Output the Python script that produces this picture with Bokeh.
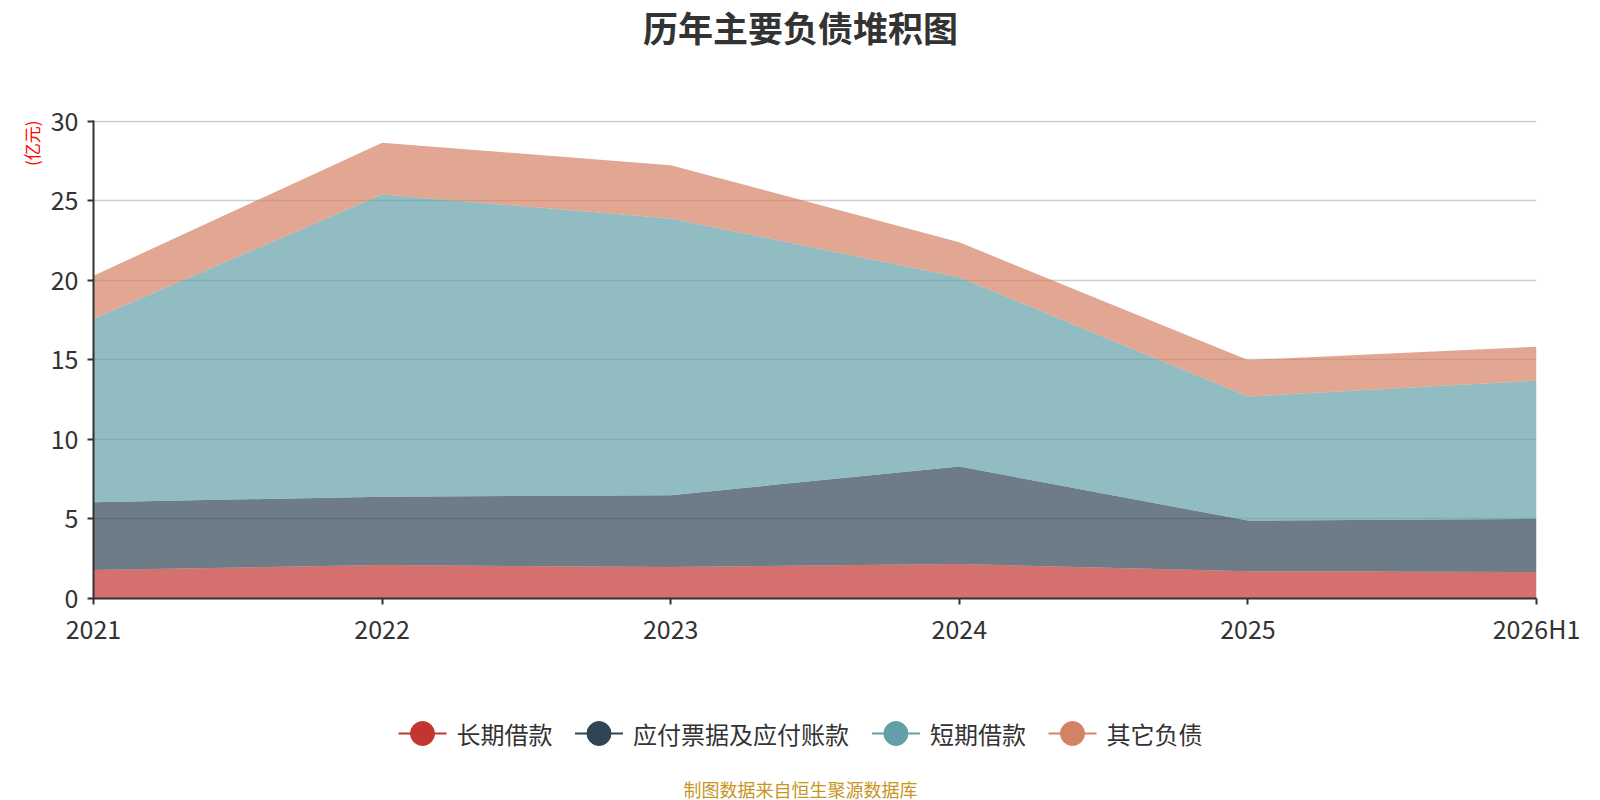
from bokeh.plotting import figure
from bokeh.models import ColumnDataSource, Range1d, FixedTicker, Title
from bokeh.layouts import column
from bokeh.embed import file_html
from bokeh.resources import INLINE
from bokeh.core.properties import value

# ---- data ----
years = ["2021", "2022", "2023", "2024", "2025", "2026H1"]
long_loan = [1.79, 2.10, 1.98, 2.17, 1.72, 1.66]        # 长期借款
payables = [4.27, 4.30, 4.52, 6.13, 3.18, 3.34]         # 应付票据及应付账款
short_loan = [11.54, 19.00, 17.40, 11.90, 7.80, 8.70]   # 短期借款
other_debt = [2.70, 3.26, 3.35, 2.20, 2.30, 2.13]       # 其它负债
series_names = ["长期借款", "应付票据及应付账款", "短期借款", "其它负债"]
series_colors = ["#c23531", "#2f4554", "#61a0a8", "#d48265"]
y_ticks = [0, 5, 10, 15, 20, 25, 30]
title_text = "历年主要负债堆积图"
unit_text = "(亿元)"
footer_text = "制图数据来自恒生聚源数据库"

FONT = "Noto Sans CJK SC"
W = 1600
BL, BR = 93, 64          # common left / right borders -> frame spans x 93..1536


def bare_fig(height, y_top, y_bottom):
    f = figure(width=W, height=height, output_backend="svg", toolbar_location=None,
               x_range=Range1d(BL, W - BR), y_range=Range1d(y_bottom, y_top),
               x_axis_type=None, y_axis_type=None,
               min_border_left=BL, min_border_right=BR,
               min_border_top=0, min_border_bottom=0)
    f.outline_line_color = None
    f.xgrid.grid_line_color = None
    f.ygrid.grid_line_color = None
    f.background_fill_color = "white"
    f.border_fill_color = "white"
    return f


# ---- title strip (page y 0..100) ----
t = bare_fig(100, 0, 100)
t.text([800], [26], text=[title_text], text_font=value(FONT), text_font_size="35px",
       text_font_style="bold", text_color="#333333",
       text_align="center", text_baseline="middle")

# ---- main chart (page y 100..648, frame 120..600) ----
x_idx = list(range(len(years)))
source = ColumnDataSource(dict(
    x=x_idx,
    s0=long_loan, s1=payables, s2=short_loan, s3=other_debt,
))

p = figure(width=W, height=548, output_backend="svg", toolbar_location=None,
           x_range=Range1d(0, len(years) - 1), y_range=Range1d(0, 30.06),
           min_border_left=BL, min_border_right=BR, min_border_top=20,
           min_border_bottom=48)
p.outline_line_color = None
p.background_fill_color = "white"
p.border_fill_color = "white"

p.varea_stack(stackers=["s0", "s1", "s2", "s3"], x="x", color=series_colors,
              fill_alpha=0.7, source=source)

p.xaxis.ticker = FixedTicker(ticks=x_idx)
p.xaxis.major_label_overrides = {i: y for i, y in enumerate(years)}
p.yaxis.ticker = FixedTicker(ticks=y_ticks)
for ax in (p.xaxis[0], p.yaxis[0]):
    ax.axis_line_color = "#333333"
    ax.axis_line_width = 2
    ax.major_tick_line_color = "#333333"
    ax.major_tick_line_width = 2
    ax.major_tick_out = 6
    ax.major_tick_in = 0
    ax.minor_tick_line_color = None
    ax.major_label_text_font = FONT
    ax.major_label_text_font_size = "25px"
    ax.major_label_text_color = "#333333"
p.xaxis.major_label_standoff = 5
p.yaxis.major_label_standoff = 9

p.xgrid.grid_line_color = None
p.ygrid.grid_line_color = "#cccccc"
p.ygrid.grid_line_width = 1.5
p.ygrid.ticker = FixedTicker(ticks=y_ticks)

p.add_layout(Title(text=unit_text, align="right", text_font=FONT,
                   text_font_size="17px", text_font_style="normal",
                   text_color="#ff0000", standoff=7), "left")

# ---- legend + footer strip (page y 648..800) ----
q = bare_fig(152, 648, 800)
legend_x = [398, 574.5, 871.4, 1048]
legend_y = 733
for lx, name, col in zip(legend_x, series_names, series_colors):
    q.line([lx, lx + 48], [legend_y, legend_y], line_color=col, line_width=2)
    q.scatter([lx + 24], [legend_y], marker="circle", size=24,
              fill_color=col, line_color=col)
    q.text([lx + 58], [legend_y], text=[name], text_font=value(FONT),
           text_font_size="24px", text_color="#333333",
           text_baseline="middle", text_align="left")

q.text([800], [788], text=[footer_text], text_font=value(FONT),
       text_font_size="18px", text_color="#c8961e",
       text_baseline="middle", text_align="center")

layout = column(t, p, q, spacing=0)
open("out.html", "w").write(file_html(layout, INLINE))
